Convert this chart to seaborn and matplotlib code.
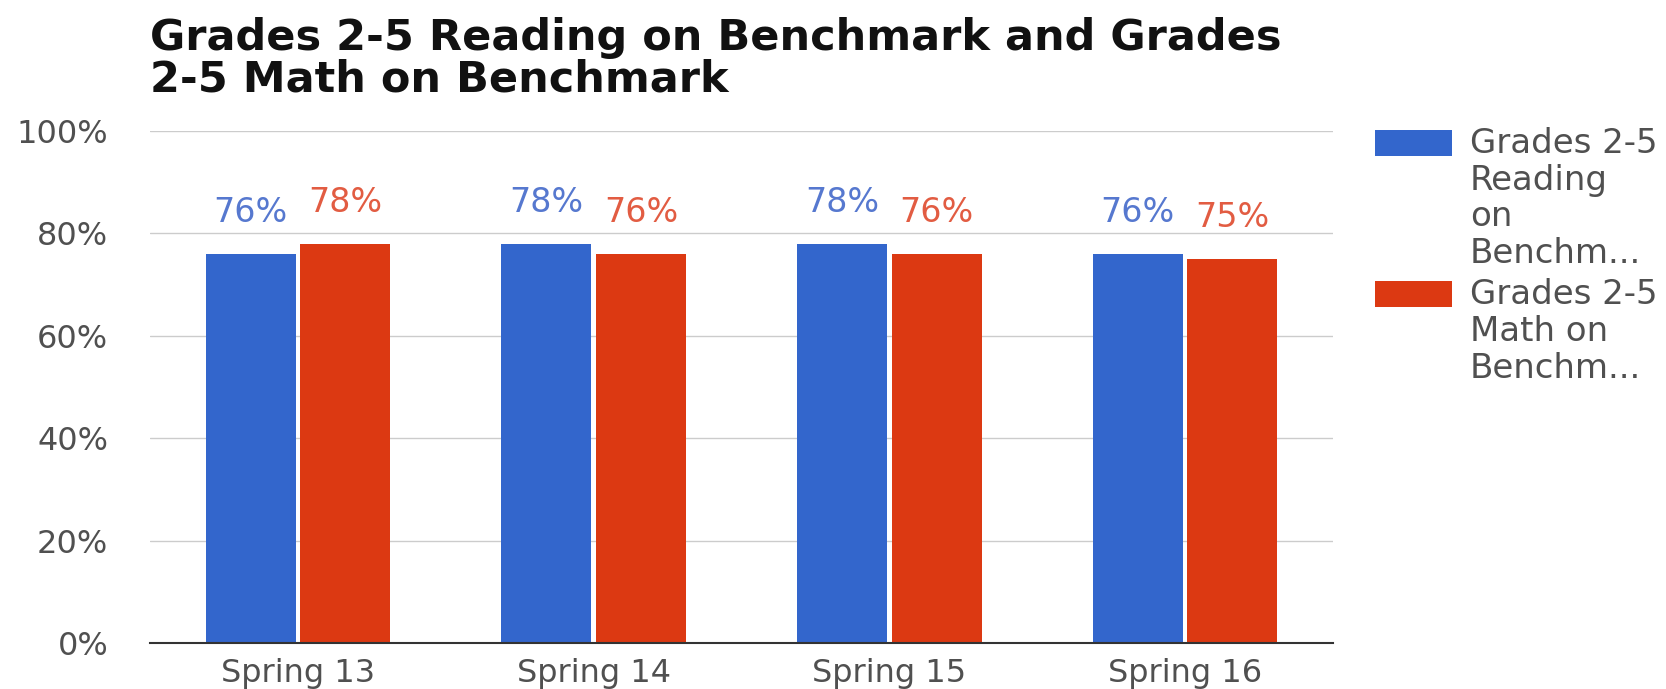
import matplotlib
matplotlib.use("Agg")
import matplotlib.pyplot as plt
import seaborn as sns
import pandas as pd
from matplotlib.patches import Rectangle
from matplotlib.ticker import FuncFormatter

# ---- data ----
categories = ["Spring 13", "Spring 14", "Spring 15", "Spring 16"]
series_names = ["Grades 2-5 Reading on Benchmark", "Grades 2-5 Math on Benchmark"]
reading = [76, 78, 78, 76]
math = [78, 76, 76, 75]
y_ticks = [0, 20, 40, 60, 80, 100]
legend_lines = [["Grades 2-5", "Reading", "on", "Benchm..."],
                ["Grades 2-5", "Math on", "Benchm..."]]
title = "Grades 2-5 Reading on Benchmark and Grades\n2-5 Math on Benchmark"

# ---- style ----
bar_colors = ["#3366CC", "#DC3912"]
label_colors = ["#5678CF", "#E25C42"]
W, H, DPI = 1666, 689, 100

sns.set_theme(style="white")
plt.rcParams["font.family"] = ["DejaVu Sans"]

df = pd.DataFrame({
    "period": categories * 2,
    "series": [series_names[0]] * len(categories) + [series_names[1]] * len(categories),
    "value": reading + math,
})

fig = plt.figure(figsize=(W / DPI, H / DPI), dpi=DPI)
fig.patch.set_facecolor("white")
ax = fig.add_axes([150 / W, (H - 643) / H, (1333 - 150) / W, (643 - 131) / H])
ax.set_facecolor("white")

sns.barplot(data=df, x="period", y="value", hue="series", order=categories,
            hue_order=series_names, palette=bar_colors, width=0.64, gap=0.05,
            saturation=1, linewidth=0, errorbar=None, legend=False, ax=ax)

for cont, col, vals in zip(ax.containers, label_colors, [reading, math]):
    ax.bar_label(cont, labels=[f"{v}%" for v in vals], padding=18,
                 color=col, fontsize=24)

ax.set_ylim(0, 100)
ax.set_xlim(-0.5, len(categories) - 0.5)
ax.set_yticks(y_ticks)
ax.yaxis.set_major_formatter(FuncFormatter(lambda v, _: f"{v:.0f}%"))
ax.grid(axis="y", color="#cccccc", linewidth=1)
ax.grid(axis="x", visible=False)
ax.set_axisbelow(True)
for s in ["top", "right", "left"]:
    ax.spines[s].set_visible(False)
ax.spines["bottom"].set_color("#333333")
ax.spines["bottom"].set_linewidth(1.5)
ax.tick_params(axis="both", length=0, labelsize=23, colors="#505050")
ax.tick_params(axis="y", pad=30)
ax.tick_params(axis="x", pad=11)
ax.set_xlabel("")
ax.set_ylabel("")

# ---- title ----
fig.text(150 / W, 1 - 17 / H, title, fontsize=31, fontweight="bold",
         color="#111111", ha="left", va="top", linespacing=1.0)

# ---- legend ----
swatch_tops = [130, 281]
line_baselines = [[153, 190, 226, 263], [304, 341, 378]]
for col, top, lines, bases in zip(bar_colors, swatch_tops, legend_lines, line_baselines):
    fig.add_artist(Rectangle((1375 / W, 1 - (top + 26) / H), 77 / W, 26 / H,
                             transform=fig.transFigure, facecolor=col,
                             edgecolor="none"))
    for txt, b in zip(lines, bases):
        fig.text(1470 / W, 1 - b / H, txt, fontsize=24.5, color="#505050",
                 ha="left", va="baseline")

fig.savefig("out.png", dpi=DPI)
